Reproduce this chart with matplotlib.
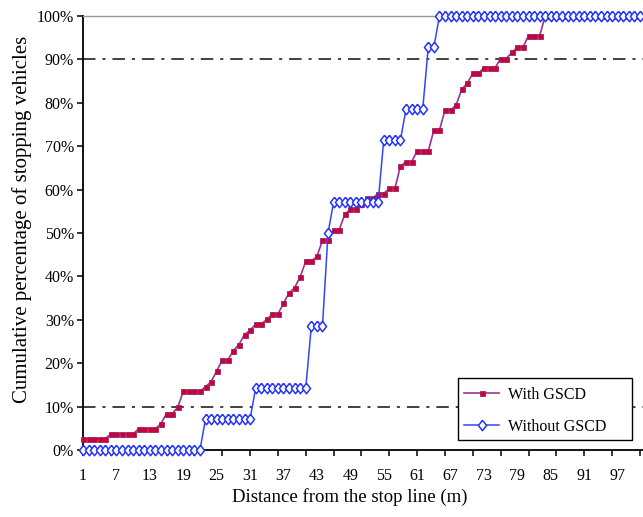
import matplotlib
matplotlib.use("Agg")
import matplotlib.pyplot as plt
from matplotlib.patches import Rectangle

plt.rcParams['font.family'] = ['Liberation Serif', 'DejaVu Serif']
plt.rcParams['lines.scale_dashes'] = False

# Distance categories (m)
distance = list(range(1, 102))

# Cumulative percentage of stopping vehicles, with GSCD (by distance 1..101)
with_steps = [
    (5, 2.6), (5, 3.7), (4, 4.9), (1, 6.1), (2, 8.4), (1, 9.8), (4, 13.5),
    (1, 14.6), (1, 15.7), (1, 18.2), (2, 20.7), (1, 22.9), (1, 24.3),
    (1, 26.6), (1, 27.6), (2, 29.0), (1, 30.1), (2, 31.3), (1, 33.8),
    (1, 36.2), (1, 37.4), (1, 39.9), (2, 43.5), (1, 44.6), (2, 48.3),
    (2, 50.7), (1, 54.3), (2, 55.5), (1, 56.6), (2, 58.0), (2, 59.1),
    (2, 60.3), (1, 65.4), (2, 66.4), (3, 68.9), (2, 73.7), (2, 78.3),
    (1, 79.5), (1, 83.1), (1, 84.5), (2, 86.8), (3, 88.1), (2, 90.2),
    (1, 91.6), (2, 92.8), (3, 95.5), (18, 100.0),
]
# Without GSCD
without_steps = [
    (22, 0.0), (9, 7.14), (10, 14.29), (3, 28.57), (1, 50.0), (9, 57.14),
    (4, 71.43), (4, 78.57), (2, 92.86), (37, 100.0),
]

with_gscd = [v for n, v in with_steps for _ in range(n)]
without_gscd = [v for n, v in without_steps for _ in range(n)]

yticks = list(range(0, 101, 10))
ytick_labels = [f"{t}%" for t in yticks]
xlabel_pos = list(range(1, 100, 6))
xtick_marks = list(range(1, 102, 5))
ref_lines = [10, 90]

W, H = 643, 517
fig = plt.figure(figsize=(W / 100, H / 100), dpi=100)
ax = fig.add_axes([83 / W, 1 - 450 / H, 1 - 83 / W, (450 - 16) / H])

for y in ref_lines:
    ax.axhline(y, color='#333333', lw=1.3, dashes=(9, 5, 2.2, 5), zorder=1)

diamond = [(0, 1), (0.78, 0), (0, -1), (-0.78, 0), (0, 1)]

ax.plot(distance, with_gscd, color='#993399', lw=1.2, marker='s', ms=3.6,
        mfc='#CC0033', mec='#992266', mew=0.6, label='With GSCD',
        clip_on=False, zorder=3)
ax.plot(distance, without_gscd, color='#3344FF', lw=1.1, marker=diamond, ms=7.5,
        mfc='white', mec='#2233FF', mew=1.1, label='Without GSCD',
        clip_on=False, zorder=4)

ax.set_xlim(1, 101.55)
ax.set_ylim(0, 100)

ax.spines['right'].set_visible(False)
ax.spines['top'].set_color('#999999')
ax.spines['top'].set_linewidth(1.0)
ax.spines['left'].set_linewidth(1.3)
ax.spines['bottom'].set_linewidth(1.3)

ax.set_yticks(yticks)
ax.set_yticklabels(ytick_labels, fontsize=11.5)
ax.tick_params(axis='y', direction='out', length=4.5, width=1.1, pad=2)

ax.xaxis.remove_overlapping_locs = False
ax.set_xticks(xtick_marks)
ax.set_xticklabels([''] * len(xtick_marks))
ax.tick_params(axis='x', which='major', direction='out', length=4.5, width=1.1)
ax.set_xticks(xlabel_pos, minor=True)
ax.set_xticklabels([str(v) for v in xlabel_pos], minor=True, fontsize=11.5)
ax.tick_params(axis='x', which='minor', length=0, pad=13)

fig.text(350 / W, 1 - 497 / H, 'Distance from the stop line (m)', fontsize=13.5,
         ha='center', va='center')
fig.text(22 / W, 1 - 219 / H, 'Cumulative percentage of stopping vehicles',
         fontsize=15, rotation=90, ha='center', va='center')

# legend frame drawn separately (wider on the right as in the original)
ax.add_patch(Rectangle((458 / W, 1 - 440 / H), (632 - 458) / W, (440 - 378) / H,
                       transform=fig.transFigure, facecolor='white',
                       edgecolor='black', lw=1.0, zorder=5, clip_on=False))
leg = ax.legend(loc='upper left', bbox_to_anchor=(464 / W, 1 - 387 / H),
                bbox_transform=fig.transFigure, fontsize=11.5, frameon=False,
                handlelength=2.2, handletextpad=0.55, labelspacing=1.0,
                borderpad=0.0, borderaxespad=0)
leg.set_zorder(6)

fig.savefig('out.png', dpi=100)
